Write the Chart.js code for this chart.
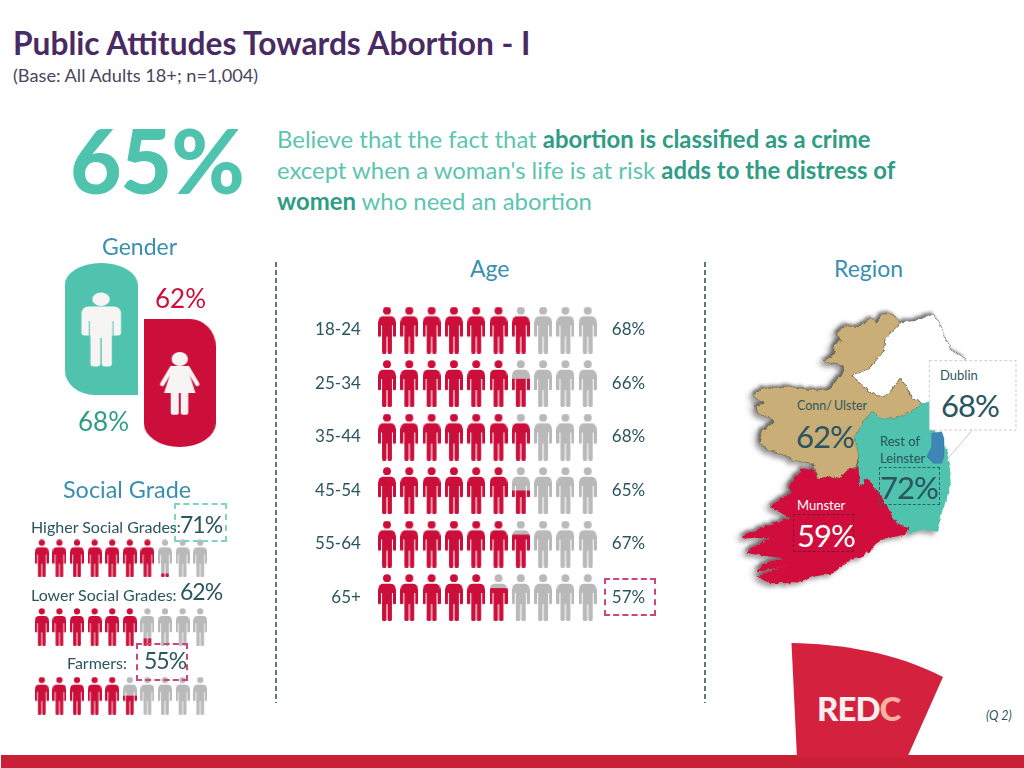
<!DOCTYPE html>
<html><head><meta charset="utf-8">
<script src="https://cdn.jsdelivr.net/npm/chart.js@4"></script>
<style>
html,body{margin:0;padding:0;background:#fff;width:1024px;height:768px;overflow:hidden;font-family:Lato,"Open Sans",sans-serif}
.t{position:absolute;white-space:nowrap;transform:translateY(-50%);line-height:1.1;z-index:5}
canvas{position:absolute}
.box{position:absolute;box-sizing:border-box;z-index:4}
.vline{position:absolute;top:262px;height:441px;width:1.5px;background:repeating-linear-gradient(#5d777c 0 5px,transparent 5px 8px)}
svg{position:absolute}
</style></head><body>
<div id="layer"></div>
<div class="vline" style="left:275px"></div>
<div class="vline" style="left:704px"></div>

<svg style="left:720px;top:290px" width="304" height="300" viewBox="0 0 912 900">
 <defs>
 <filter id="rough" x="-5%" y="-5%" width="110%" height="110%"><feTurbulence type="fractalNoise" baseFrequency="0.07" numOctaves="3" seed="4" result="n"/><feDisplacementMap in="SourceGraphic" in2="n" scale="13" xChannelSelector="R" yChannelSelector="G"/></filter>
 <filter id="sh" x="-10%" y="-10%" width="120%" height="120%"><feDropShadow dx="-7" dy="-7" stdDeviation="5" flood-color="#333" flood-opacity=".55"/></filter>
 <filter id="sh2" x="-10%" y="-10%" width="120%" height="120%"><feDropShadow dx="-12" dy="10" stdDeviation="7" flood-color="#333" flood-opacity=".45"/></filter></defs>
 <g filter="url(#sh2)"><g filter="url(#sh)"><g filter="url(#rough)">
 <polygon fill="#fff" stroke="#666" stroke-width="2" points="545,95 585,92 640,72 660,100 672,140 700,185 735,205 735,240 700,300 628,340 605,340 575,325 560,290 540,265 515,300 490,322 465,315 430,290 395,255 447,235 465,215 490,185 495,145 520,120"/>
 <polygon fill="#c9ae78" stroke="#5c5030" stroke-width="1.5" points="545,95 520,120 495,145 490,185 465,215 447,235 420,248 395,255 430,290 465,315 490,322 515,300 540,265 560,290 575,325 605,340 575,365 525,385 480,385 455,365 425,405 405,440 415,490 410,530 375,545 360,565 330,560 295,565 280,520 245,515 215,510 195,495 145,480 118,460 125,420 160,400 150,380 120,375 105,350 130,340 100,320 125,295 165,295 215,290 265,298 325,300 345,272 372,248 370,228 310,215 345,190 338,170 362,150 350,130 380,105 415,110 455,85 470,100 488,72 510,72"/>
 <polygon fill="#4fc3ae" points="455,365 480,385 525,385 575,365 605,340 628,335 640,420 680,480 690,540 695,575 675,640 660,680 655,725 600,720 565,735 560,715 530,700 510,665 490,630 465,590 440,565 420,590 415,530 415,490 405,440 425,405"/>
 <polygon fill="#d00f3c" points="295,565 330,560 360,565 375,545 415,530 420,590 440,565 465,590 490,630 510,665 530,700 565,715 555,735 500,745 470,760 430,800 395,810 375,820 340,850 280,860 225,880 150,880 110,860 170,835 200,825 105,850 130,820 185,805 80,790 90,775 150,745 65,745 80,730 160,700 210,685 150,650 180,625 215,610 205,590 245,535 280,540"/>
 </g></g></g>
 <polygon fill="#3d86b5" stroke="#2f6f9a" stroke-width="1" points="635,430 665,425 672,445 672,500 665,520 640,520 620,500 635,470"/>
 <line x1="757" y1="420" x2="678" y2="512" stroke="#aaa" stroke-width="2"/>
 <rect x="628" y="212" width="260" height="208" fill="#fff" stroke="#c4c4c4" stroke-width="2.5" stroke-dasharray="9 6"/>
</svg>

<svg style="left:0;top:630px" width="1024" height="138" viewBox="0 0 1024 138">
 <rect x="1" y="125" width="1023" height="13" fill="#c92038"/>
 <path d="M791.5 13 C 840 14, 895 22, 943 47 L 907 128 L 797 128 Z" fill="#d4213d"/>
</svg>
<div class="t" style="left:817px;top:708px;font:900 33px 'Lato';letter-spacing:-1px;color:#fbeeee">RED<span style="color:#f5b39f">C</span></div>

<canvas id="genderChart" style="left:62px;top:255px"></canvas>
<canvas id="socialChart" style="left:33px;top:524px"></canvas>
<canvas id="ageChart" style="left:300px;top:300px"></canvas>

<div class="box" style="left:174px;top:503px;width:53px;height:39px;border:2px dashed #7fd5c4"></div>
<div class="box" style="left:136px;top:643px;width:52px;height:38px;border:2px dashed #c9477a"></div>
<div class="box" style="left:604px;top:578px;width:52px;height:38px;border:2px dashed #c9477a"></div>
<div class="box" style="left:879px;top:467px;width:61px;height:38px;border:1px dashed #1f6a66"></div>
<div class="box" style="left:793px;top:514px;width:61px;height:38px;border:1px dashed #7a1530"></div>

<script>
// ---- data ----
const ageCategories = ['18-24','25-34','35-44','45-54','55-64','65+'];
const ageValues = [68,66,68,65,67,57];
const socialCategories = ['Higher Social Grades:','Lower Social Grades:','Farmers:'];
const socialValues = [71,62,55];
const genderCategories = ['Male','Female'];
const genderValues = [68,62];
const regionCategories = ['Conn/ Ulster','Rest of Leinster','Munster','Dublin'];
const regionValues = [62,72,59,68];
const overallValue = 65;
const iconSlots = [1,2,3,4,5,6,7,8,9,10];

// ---- palette ----
const RED='#cb0f3a', GREY='#b9b9b9', TEAL='#4fc3ae', TEALD='#2f9c85', BLUE='#3a8fb0', INK='#2b5560';

function pct(v){return v+'%';}

// ---- page text ----
const layer=document.getElementById('layer');
function text(html,x,y,size,color,extra){
  const d=document.createElement('div');d.className='t';d.innerHTML=html;
  d.style.cssText=`left:${x}px;top:${y}px;font-size:${size}px;color:${color};${extra||''}`;
  layer.appendChild(d);return d;
}
text('Public Attitudes Towards Abortion - I',13,43,31.7,'#4a2a63','font-weight:700');
text('(Base: All Adults 18+; n=1,004)',13,75,18.2,'#4a4560');
text(pct(overallValue),70,160,89,TEAL,'font-weight:900;letter-spacing:-1px');
const B=s=>`<b style="color:${TEALD}">${s}</b>`;
text(`Believe that the fact that ${B('abortion is classified as a crime')}`,277,139,23.9,'#5cc5b0');
text(`except when a woman's life is at risk ${B('adds to the distress of')}`,277,170,23.9,'#5cc5b0');
text(`${B('women')} who need an abortion`,277,201,23.9,'#5cc5b0');
text('Gender',102,247,23,BLUE);
text('Age',470,269,23,BLUE);
text('Region',834,269,23,BLUE);
text('Social Grade',63,490,23.4,BLUE);
text(pct(genderValues[1]),155,298,26,RED);
text(pct(genderValues[0]),78,421,26,TEALD);
const socialX=[[31,180],[31,180],[67,144]], socialY=[[527,525],[595,592],[663,661]];
socialCategories.forEach((c,i)=>{
  text(c,socialX[i][0],socialY[i][0],16,INK);
  text(pct(socialValues[i]),socialX[i][1],socialY[i][1],23,INK,'letter-spacing:-1px');
});
text('Conn/',797,406,12.5,'#2f5a5c');text('Ulster',834,406,12.5,'#2f5a5c');
text(pct(regionValues[0]),796,436,31,'#2b5560','letter-spacing:-1px');
text('Rest of',880,441,13,'#2b5560');text('Leinster',880,458,13,'#2b5560');
text(pct(regionValues[1]),880,487,31,'#2b5560','letter-spacing:-1px');
text(regionCategories[2],797,505,13,'#fff');
text(pct(regionValues[2]),797,535,31,'#fff','letter-spacing:-1px');
text(regionCategories[3],940,375,13,'#2b5560');
text(pct(regionValues[3]),941,405,31,'#2b5560','letter-spacing:-1px');
text('(Q 2)',986,716,12.5,INK,'font-style:italic');

// ---- icons for the library's points ----
function makePerson(w,h,frac){
  const c=document.createElement('canvas');c.width=w;c.height=h;
  const g=c.getContext('2d');
  g.save();g.scale(w/17.7,h/46.7);
  g.fillStyle='#000';
  g.beginPath();g.arc(8.85,4.1,3.9,0,Math.PI*2);g.fill();
  g.beginPath();g.roundRect(.3,9.8,17.1,9,[5,5,0,0]);g.fill();
  g.beginPath();g.roundRect(0,15,3,15,[1,1,1.3,1.3]);g.fill();
  g.beginPath();g.roundRect(14.7,15,3,15,[1,1,1.3,1.3]);g.fill();
  g.beginPath();g.rect(4,15,9.7,15);g.fill();
  g.beginPath();g.roundRect(4,28,4.3,18.7,[0,0,1.6,1.6]);g.fill();
  g.beginPath();g.roundRect(9.4,28,4.3,18.7,[0,0,1.6,1.6]);g.fill();
  g.restore();
  g.globalCompositeOperation='source-in';
  g.fillStyle=GREY;g.fillRect(0,0,w,h);
  g.globalCompositeOperation='source-atop';
  g.fillStyle=RED;g.fillRect(0,h*(1-frac),w,h*frac);
  return c;
}
function slotFill(value,slot){return Math.max(0,Math.min(1,value/10-(slot-1)));}

function genderIcon(female){
  const w=female?72:73,h=female?128:132;
  const c=document.createElement('canvas');c.width=w;c.height=h;
  const g=c.getContext('2d');
  g.fillStyle=female?'#cc0f3a':TEAL;
  g.beginPath();
  if(female) g.roundRect(0,0,w,h,[{x:0,y:0},{x:26,y:27},{x:36,y:24},{x:36,y:24}]);
  else g.roundRect(0,0,w,h,[{x:36,y:22},{x:36,y:22},{x:0,y:0},{x:30,y:25}]);
  g.fill();
  g.fillStyle=g.strokeStyle='#f7f5f4';
  if(!female){
    g.beginPath();g.ellipse(36.3,36.3,8.7,6.8,0,0,7);g.fill();
    g.beginPath();g.roundRect(16.7,43.5,39.6,29,[7,7,3,3]);g.fill();
    g.beginPath();g.roundRect(25.7,60,21.4,15,0);g.fill();
    g.beginPath();g.roundRect(25.7,70,9.9,33.5,[0,0,3,3]);g.fill();
    g.beginPath();g.roundRect(37,70,10.1,33.5,[0,0,3,3]);g.fill();
    g.strokeStyle=TEAL;g.lineWidth=1;
    g.beginPath();g.moveTo(24.6,58);g.lineTo(24.6,75);g.moveTo(48.2,58);g.lineTo(48.2,75);g.stroke();
  }else{
    g.beginPath();g.ellipse(36,40,8.2,7,0,0,7);g.fill();
    g.beginPath();g.moveTo(29,47);g.lineTo(43,47);g.lineTo(51.7,74);g.lineTo(20.3,74);g.closePath();g.fill();
    g.lineWidth=4.4;g.lineCap='round';
    g.beginPath();g.moveTo(28,49);g.lineTo(18.5,65);g.moveTo(44,49);g.lineTo(53.5,65);g.stroke();
    g.beginPath();g.roundRect(27,72,8,23.7,[0,0,2,2]);g.fill();
    g.beginPath();g.roundRect(37,72,7.5,23.7,[0,0,2,2]);g.fill();
  }
  return c;
}

// ---- charts ----
Chart.defaults.animation=false;
Chart.defaults.font.family='Lato';
const base={responsive:false,animation:false,events:[],plugins:{legend:{display:false},tooltip:{enabled:false}}};
function size(id,w,h){const c=document.getElementById(id);c.width=w;c.height=h;c.style.width=w+'px';c.style.height=h+'px';return c;}
function pictoData(cats,vals,w,h){
  const pts=[],styles=[];
  cats.forEach((cat,r)=>iconSlots.forEach(s=>{pts.push({x:s,y:cat});styles.push(makePerson(w,h,slotFill(vals[r],s)));}));
  return {pts,styles};
}
const fixAxis=w=>s=>{s.width=w;s.paddingTop=0;s.paddingBottom=0;};

const age=pictoData(ageCategories,ageValues,18,47);
new Chart(size('ageChart',360,330),{type:'scatter',
  data:{datasets:[{label:'Age',data:age.pts,pointStyle:age.styles,pointRadius:10,yAxisID:'y',clip:false}]},
  options:{...base,layout:{autoPadding:false,padding:{top:3.25,bottom:5.75}},scales:{
    x:{type:'linear',min:.5,max:10.5,display:false},
    y:{type:'category',labels:ageCategories,offset:true,position:'left',
       grid:{display:false,drawTicks:false},border:{display:false},
       afterFit:fixAxis(75.85),
       ticks:{padding:15,color:INK,font:{size:17,family:'Lato'},autoSkip:false}},
    y2:{type:'category',labels:ageValues.map(pct),offset:true,position:'right',
       grid:{display:false,drawTicks:false},border:{display:false},
       afterFit:fixAxis(61.15),
       ticks:{padding:13,color:INK,font:{size:17,family:'Lato'},autoSkip:false}}
  }}});

const soc=pictoData(socialCategories,socialValues,14,38);
new Chart(size('socialChart',176,206),{type:'scatter',
  data:{datasets:[{label:'Social Grade',data:soc.pts,pointStyle:soc.styles,pointRadius:8,clip:false}]},
  options:{...base,layout:{autoPadding:false},scales:{
    x:{type:'linear',min:.5,max:10.5,display:false},
    y:{type:'category',labels:socialCategories,offset:true,display:false}
  }}});

new Chart(size('genderChart',157,200),{type:'scatter',
  data:{datasets:[{label:'Gender',data:genderValues.map((v,i)=>({x:genderCategories[i],y:v})),
     pointStyle:genderCategories.map((_,i)=>genderIcon(i===1)),pointRadius:30,clip:false}]},
  options:{...base,layout:{autoPadding:false},scales:{
    x:{type:'category',labels:genderCategories,offset:true,display:false},
    y:{type:'linear',min:54,max:76.22,display:false}
  }}});
</script>
</body></html>
